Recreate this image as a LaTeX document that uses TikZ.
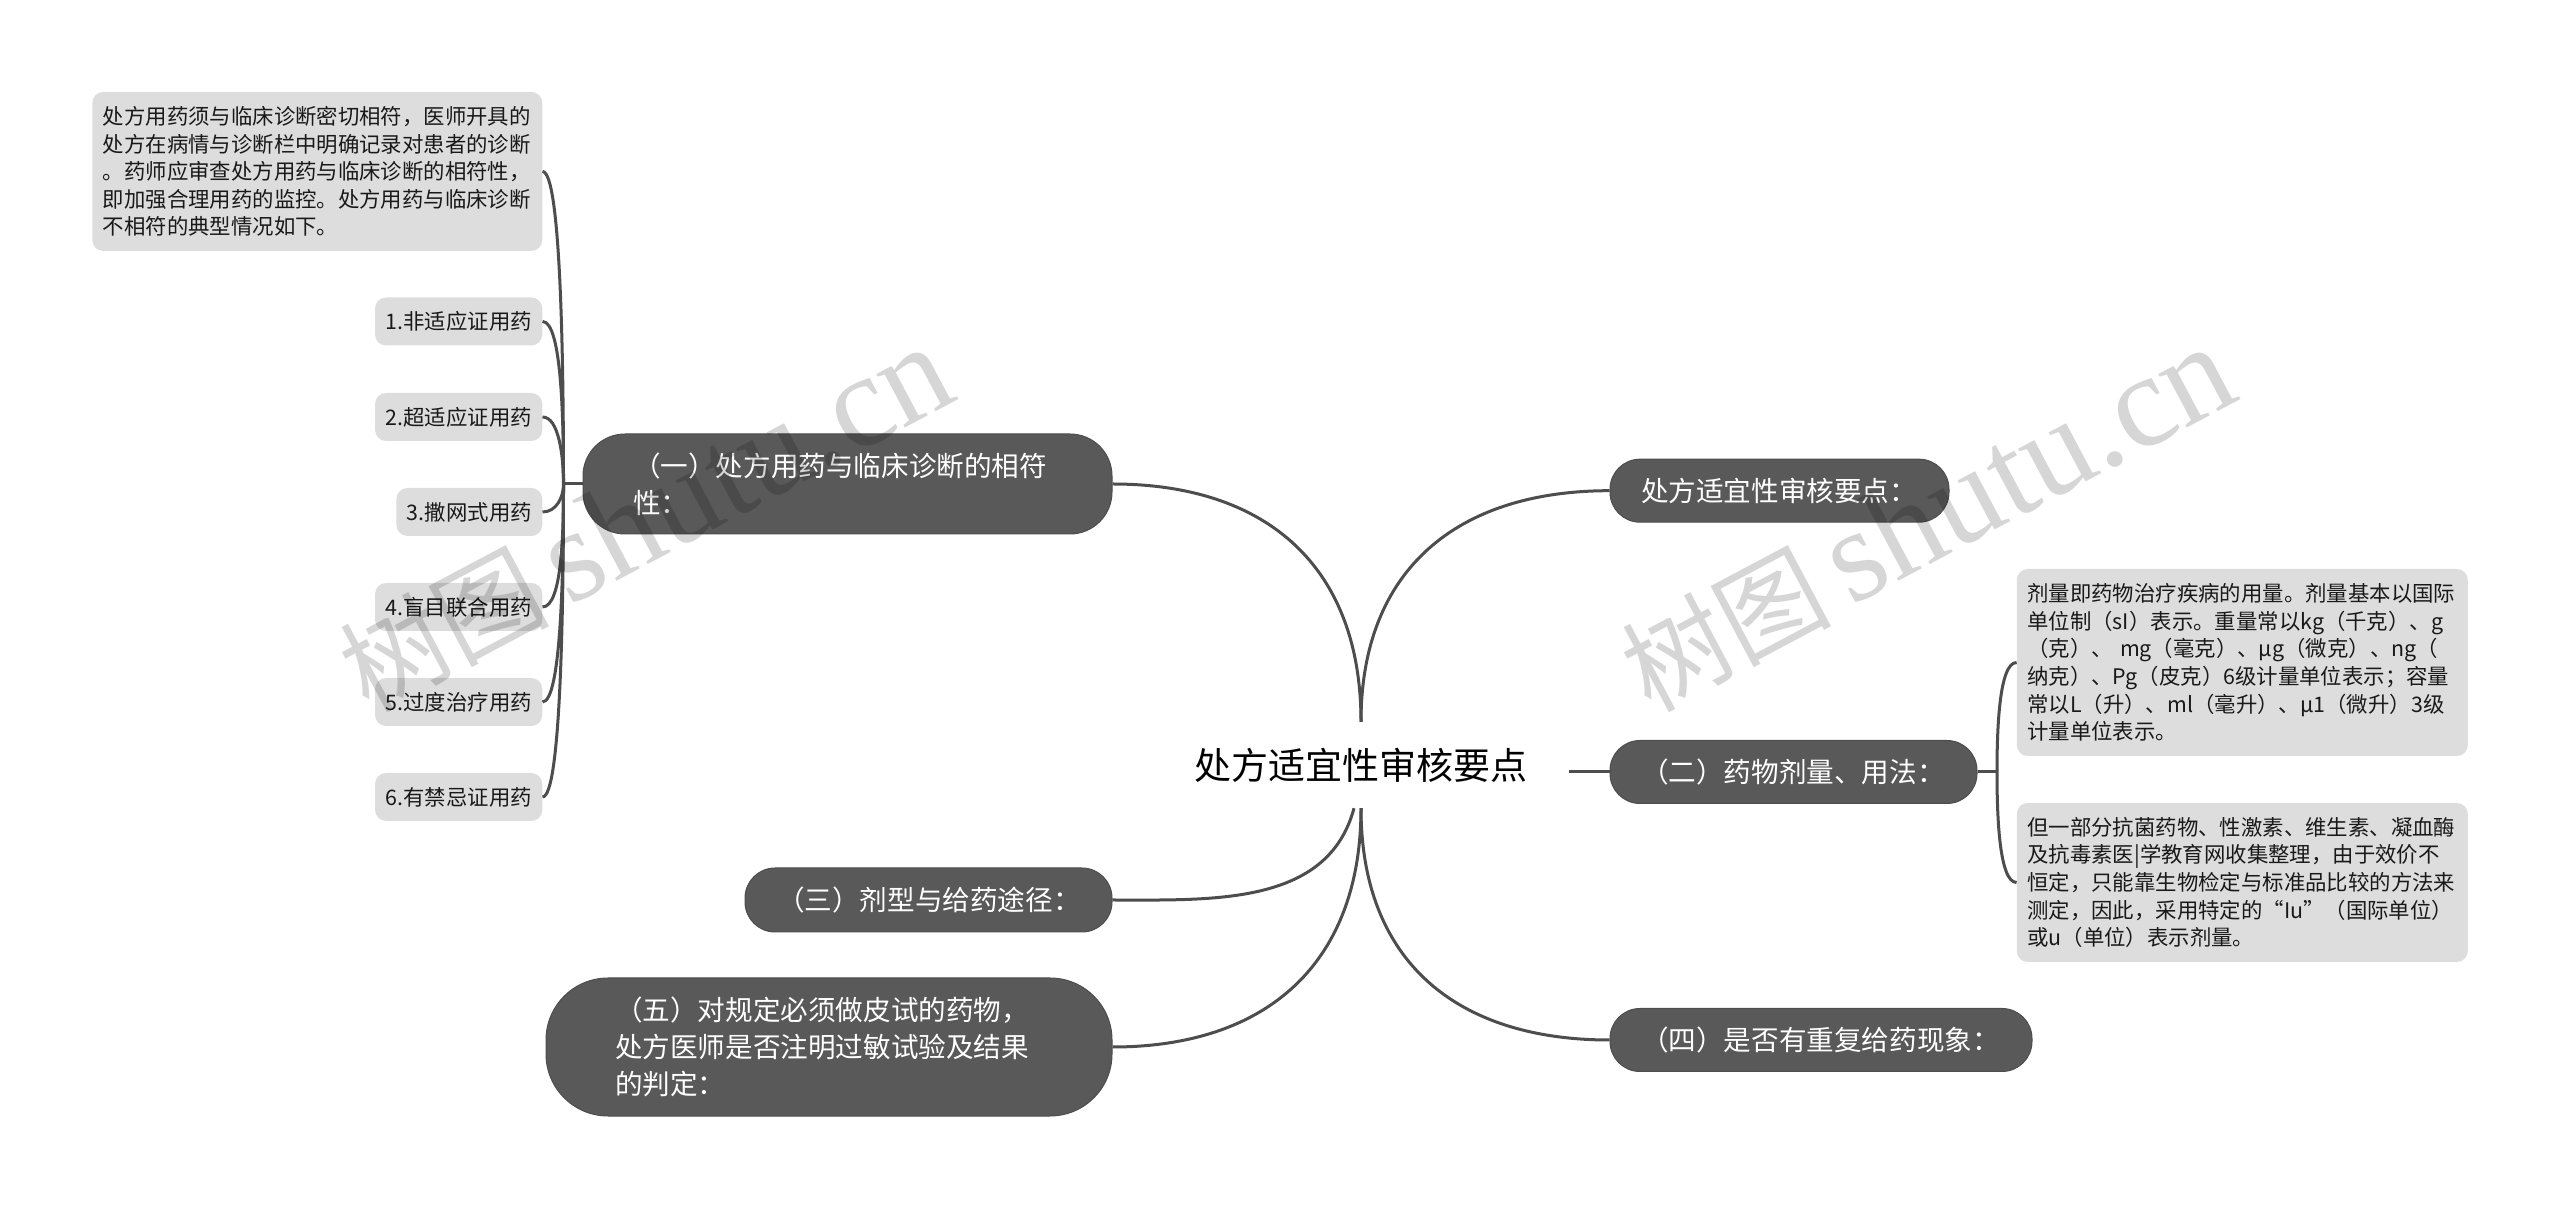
\documentclass[tikz,border=0pt]{standalone}
\usepackage{fontspec}
\setmainfont{Noto Sans CJK SC}
\newfontfamily\markfont{Liberation Serif}
\definecolor{pillfill}{HTML}{595959}
\definecolor{pilledge}{HTML}{4D4D4D}
\definecolor{notefill}{HTML}{DDDDDD}
\definecolor{linkcolor}{HTML}{4D4D4D}
\definecolor{markcolor}{HTML}{000000}
\newcommand{\marktext}{{\fontsize{105}{105}\selectfont 树图}\hspace{18pt}{\fontsize{132}{132}\markfont shutu.cn}}
\tikzset{
  pill/.style={fill=pillfill, draw=pilledge, line width=1pt, text=white, align=left, inner xsep=0pt, inner ysep=0pt,
    font=\fontsize{27.6}{37}\selectfont},
  notebox/.style={fill=notefill, rounded corners=11pt, text=black!90, align=left, anchor=east, inner xsep=10.5pt, inner ysep=0pt,
    font=\fontsize{21.4}{27.6}\selectfont},
  link/.style={draw=linkcolor, line width=3pt},
  watermark/.style={text=markcolor, opacity=0.16, rotate=28},
}
\begin{document}
\begin{tikzpicture}[x=1pt, y=1pt]
\useasboundingbox (0, 0) rectangle (2560, 1208);
\node (root) at (1361, 443) [minimum width=416pt, minimum height=86pt, font=\fontsize{37}{44}\selectfont, text=black] {处方适宜性审核要点};
\node (first) at (847.5, 724) [pill, rounded corners=42pt, minimum height=100pt, text width=429pt, inner xsep=50pt] {（一）处方用药与临床诊断的相符\\性：};
\node (third) at (928.5, 308) [pill, rounded corners=30pt, minimum height=64pt, text width=303pt, inner xsep=32pt] {（三）剂型与给药途径：};
\node (fifth) at (829, 161) [pill, rounded corners=62pt, minimum height=138pt, text width=428pt, inner xsep=69pt] {（五）对规定必须做皮试的药物，\\处方医师是否注明过敏试验及结果\\的判定：};
\node (head) at (1779.5, 717.3) [pill, rounded corners=30pt, minimum height=63pt, text width=277pt, inner xsep=31pt] {处方适宜性审核要点：};
\node (second) at (1793.5, 436) [pill, rounded corners=30pt, minimum height=63pt, text width=305pt, inner xsep=31pt] {（二）药物剂量、用法：};
\node (fourth) at (1821, 168) [pill, rounded corners=30pt, minimum height=63pt, text width=360pt, inner xsep=31pt] {（四）是否有重复给药现象：};
\node (note) at (542.5, 1036.5) [notebox, minimum height=159pt, text width=429pt] {处方用药须与临床诊断密切相符，医师开具的\\处方在病情与诊断栏中明确记录对患者的诊断\\。药师应审查处方用药与临床诊断的相符性，\\即加强合理用药的监控。处方用药与临床诊断\\不相符的典型情况如下。};
\node (itema) at (542.5, 886.5) [notebox, minimum height=48pt] {1.非适应证用药};
\node (itemb) at (542.5, 791) [notebox, minimum height=48pt] {2.超适应证用药};
\node (itemc) at (542.5, 696) [notebox, minimum height=48pt] {3.撒网式用药};
\node (itemd) at (542.5, 601) [notebox, minimum height=48pt] {4.盲目联合用药};
\node (iteme) at (542.5, 506) [notebox, minimum height=48pt] {5.过度治疗用药};
\node (itemf) at (542.5, 411) [notebox, minimum height=48pt] {6.有禁忌证用药};
\node (dosea) at (2468, 545.5) [notebox, minimum height=187pt, text width=430pt] {剂量即药物治疗疾病的用量。剂量基本以国际\\单位制（sI）表示。重量常以kg（千克）、g\\（克）、 mg（毫克）、μg（微克）、ng（\\纳克）、Pg（皮克）6级计量单位表示；容量\\常以L（升）、ml（毫升）、μ1（微升）3级\\计量单位表示。};
\node (doseb) at (2468, 325.5) [notebox, minimum height=159pt, text width=430pt] {但一部分抗菌药物、性激素、维生素、凝血酶\\及抗毒素医|学教育网收集整理，由于效价不\\恒定，只能靠生物检定与标准品比较的方法来\\测定，因此，采用特定的“Iu”（国际单位）\\或u（单位）表示剂量。};
\coordinate (leftjoin) at (563.5, 724);
\coordinate (rightjoin) at (1997, 436);
\draw [link, out=90, in=180, looseness=1.15] (root.north) to (head.west);
\draw [link] (root.east |- second.west) -- (second.west);
\draw [link, out=-90, in=180, looseness=1.15] (root.south) to (fourth.west);
\draw [link, out=90, in=0, looseness=1.15] (root.north) to (first.east);
\draw [link, out=-105, in=0] ([xshift=-7pt]root.south) to (third.east);
\draw [link, out=-90, in=0, looseness=1.15] (root.south) to (fifth.east);
\draw [link] (first.west) -- (leftjoin);
\draw [link] (second.east) -- (rightjoin);
\draw [link, out=90, in=0, in looseness=.15] (leftjoin) to (note.east);
\foreach \name/\amt in {itema/.3, itemb/.6}
  \draw [link, out=90, in=0, in looseness=\amt] (leftjoin) to (\name.east);
\foreach \name/\amt in {itemc/1, itemd/.4, iteme/.22, itemf/.15}
  \draw [link, out=-90, in=0, in looseness=\amt] (leftjoin) to (\name.east);
\draw [link, out=90, in=180, in looseness=.4] (rightjoin) to (dosea.west);
\draw [link, out=-90, in=180, in looseness=.4] (rightjoin) to (doseb.west);
\node (markleft) at (645, 689) [watermark] {\marktext};
\node (markright) at (1927, 689) [watermark] {\marktext};
\end{tikzpicture}
\end{document}
